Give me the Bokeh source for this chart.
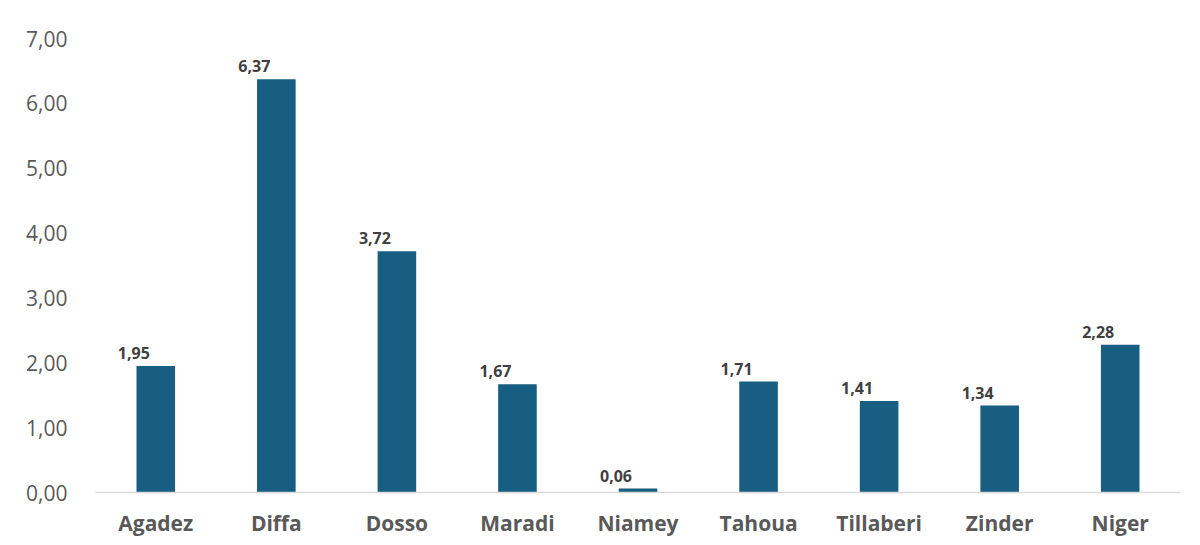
from bokeh.plotting import figure
from bokeh.models import ColumnDataSource, FixedTicker, LabelSet
from bokeh.core.properties import value
from bokeh.embed import file_html
from bokeh.resources import INLINE

regions = ["Agadez", "Diffa", "Dosso", "Maradi", "Niamey", "Tahoua", "Tillaberi", "Zinder", "Niger"]
values = [1.95, 6.37, 3.72, 1.67, 0.06, 1.71, 1.41, 1.34, 2.28]
y_ticks = [0, 1, 2, 3, 4, 5, 6, 7]

labels = [f"{v:.2f}".replace(".", ",") for v in values]
src = ColumnDataSource(dict(x=regions, top=values, label=labels))

p = figure(x_range=regions, y_range=(0, 7), width=1200, height=545,
           output_backend="svg", toolbar_location=None,
           min_border_left=95, min_border_right=20, min_border_top=38, min_border_bottom=53)
p.background_fill_color = "white"
p.border_fill_color = "white"
p.outline_line_color = None

p.vbar(x="x", top="top", width=0.32, source=src, color="#175E82", line_color=None)

p.add_layout(LabelSet(x="x", y="top", text="label", source=src,
                      x_offset=-22, y_offset=13, text_align="center", text_baseline="middle",
                      text_font=value("Open Sans"), text_font_style="bold", text_font_size="16px",
                      text_color="#404040"))

p.xgrid.grid_line_color = None
p.ygrid.grid_line_color = None

p.yaxis.ticker = FixedTicker(ticks=y_ticks)
p.yaxis.major_label_overrides = {t: f"{t},00" for t in y_ticks}
p.yaxis.axis_line_color = None
p.yaxis.major_tick_line_color = None
p.yaxis.minor_tick_line_color = None
p.yaxis.major_label_text_font = "Open Sans"
p.yaxis.major_label_text_font_size = "21px"
p.yaxis.major_label_text_color = "#595959"
p.yaxis.major_label_standoff = 22

p.xaxis.axis_line_color = "#D9D9D9"
p.xaxis.axis_line_width = 1.5
p.xaxis.major_tick_line_color = None
p.xaxis.minor_tick_line_color = None
p.xaxis.major_label_text_font = "Open Sans"
p.xaxis.major_label_text_font_style = "bold"
p.xaxis.major_label_text_font_size = "21px"
p.xaxis.major_label_text_color = "#595959"
p.xaxis.major_label_standoff = 10

open("out.html", "w").write(file_html(p, INLINE))
